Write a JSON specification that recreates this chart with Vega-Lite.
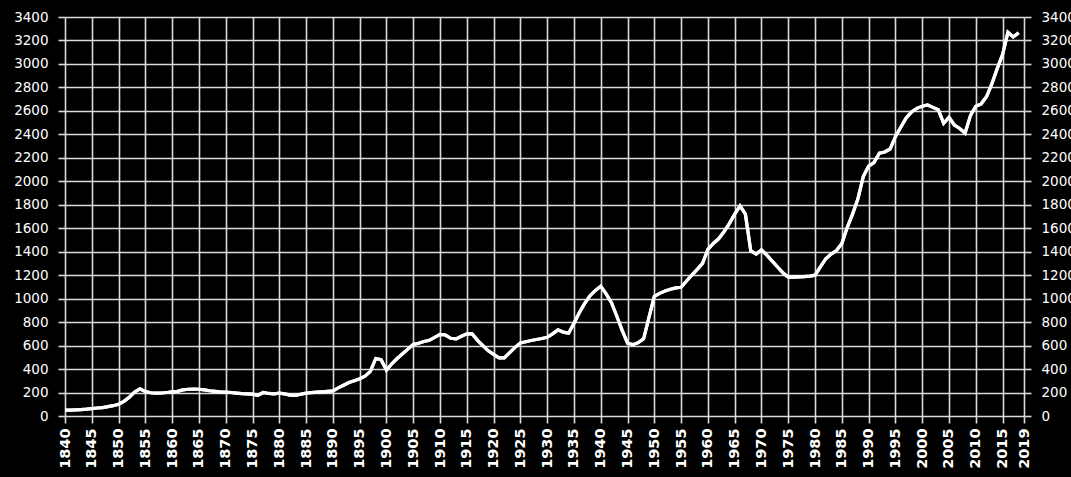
{
  "$schema": "https://vega.github.io/schema/vega-lite/v6.json",
  "width": 959,
  "height": 399,
  "autosize": {"type": "none"},
  "padding": {"left": 65, "top": 17, "right": 47, "bottom": 61},
  "background": "#000000",
  "config": {
    "view": {"stroke": null, "fill": "#000000"},
    "axis": {
      "domain": false,
      "gridColor": "#d9d9d9",
      "gridWidth": 1.6,
      "gridOpacity": 1,
      "tickColor": "#d9d9d9",
      "tickWidth": 1.6,
      "tickSize": 7,
      "labelColor": "#ffffff",
      "labelFont": "DejaVu Sans",
      "labelFontSize": 13.5,
      "title": null
    }
  },
  "data": {
    "values": [
      {"year": 1840, "v": 50}, {"year": 1841, "v": 50}, {"year": 1842, "v": 52}, {"year": 1843, "v": 55},
      {"year": 1844, "v": 58}, {"year": 1845, "v": 63}, {"year": 1846, "v": 68}, {"year": 1847, "v": 72},
      {"year": 1848, "v": 80}, {"year": 1849, "v": 88}, {"year": 1850, "v": 100}, {"year": 1851, "v": 125},
      {"year": 1852, "v": 160}, {"year": 1853, "v": 205}, {"year": 1854, "v": 232}, {"year": 1855, "v": 208},
      {"year": 1856, "v": 198}, {"year": 1857, "v": 195}, {"year": 1858, "v": 196}, {"year": 1859, "v": 200},
      {"year": 1860, "v": 205}, {"year": 1861, "v": 210}, {"year": 1862, "v": 222}, {"year": 1863, "v": 228},
      {"year": 1864, "v": 230}, {"year": 1865, "v": 228}, {"year": 1866, "v": 222}, {"year": 1867, "v": 215},
      {"year": 1868, "v": 210}, {"year": 1869, "v": 206}, {"year": 1870, "v": 204}, {"year": 1871, "v": 200},
      {"year": 1872, "v": 195}, {"year": 1873, "v": 190}, {"year": 1874, "v": 188}, {"year": 1875, "v": 186},
      {"year": 1876, "v": 176}, {"year": 1877, "v": 200}, {"year": 1878, "v": 192}, {"year": 1879, "v": 188},
      {"year": 1880, "v": 194}, {"year": 1881, "v": 188}, {"year": 1882, "v": 178}, {"year": 1883, "v": 175},
      {"year": 1884, "v": 185}, {"year": 1885, "v": 195}, {"year": 1886, "v": 200}, {"year": 1887, "v": 203},
      {"year": 1888, "v": 206}, {"year": 1889, "v": 210}, {"year": 1890, "v": 214}, {"year": 1891, "v": 240},
      {"year": 1892, "v": 262}, {"year": 1893, "v": 285}, {"year": 1894, "v": 300}, {"year": 1895, "v": 318},
      {"year": 1896, "v": 340}, {"year": 1897, "v": 380}, {"year": 1898, "v": 490}, {"year": 1899, "v": 480},
      {"year": 1900, "v": 391}, {"year": 1901, "v": 445}, {"year": 1902, "v": 490}, {"year": 1903, "v": 530},
      {"year": 1904, "v": 570}, {"year": 1905, "v": 609}, {"year": 1906, "v": 620}, {"year": 1907, "v": 635},
      {"year": 1908, "v": 645}, {"year": 1909, "v": 670}, {"year": 1910, "v": 696}, {"year": 1911, "v": 690},
      {"year": 1912, "v": 662}, {"year": 1913, "v": 657}, {"year": 1914, "v": 680}, {"year": 1915, "v": 700},
      {"year": 1916, "v": 700}, {"year": 1917, "v": 645}, {"year": 1918, "v": 600}, {"year": 1919, "v": 555},
      {"year": 1920, "v": 525}, {"year": 1921, "v": 495}, {"year": 1922, "v": 495}, {"year": 1923, "v": 540},
      {"year": 1924, "v": 585}, {"year": 1925, "v": 623}, {"year": 1926, "v": 633}, {"year": 1927, "v": 643},
      {"year": 1928, "v": 652}, {"year": 1929, "v": 660}, {"year": 1930, "v": 670}, {"year": 1931, "v": 700},
      {"year": 1932, "v": 734}, {"year": 1933, "v": 715}, {"year": 1934, "v": 706}, {"year": 1935, "v": 790},
      {"year": 1936, "v": 880}, {"year": 1937, "v": 960}, {"year": 1938, "v": 1025}, {"year": 1939, "v": 1070},
      {"year": 1940, "v": 1106}, {"year": 1941, "v": 1040}, {"year": 1942, "v": 965}, {"year": 1943, "v": 850},
      {"year": 1944, "v": 730}, {"year": 1945, "v": 620}, {"year": 1946, "v": 608}, {"year": 1947, "v": 625},
      {"year": 1948, "v": 657}, {"year": 1949, "v": 840}, {"year": 1950, "v": 1020}, {"year": 1951, "v": 1045},
      {"year": 1952, "v": 1065}, {"year": 1953, "v": 1080}, {"year": 1954, "v": 1092}, {"year": 1955, "v": 1097},
      {"year": 1956, "v": 1150}, {"year": 1957, "v": 1200}, {"year": 1958, "v": 1250}, {"year": 1959, "v": 1300},
      {"year": 1960, "v": 1420}, {"year": 1961, "v": 1470}, {"year": 1962, "v": 1510}, {"year": 1963, "v": 1570},
      {"year": 1964, "v": 1640}, {"year": 1965, "v": 1720}, {"year": 1966, "v": 1790}, {"year": 1967, "v": 1720},
      {"year": 1968, "v": 1406}, {"year": 1969, "v": 1380}, {"year": 1970, "v": 1415}, {"year": 1971, "v": 1370},
      {"year": 1972, "v": 1320}, {"year": 1973, "v": 1270}, {"year": 1974, "v": 1220}, {"year": 1975, "v": 1183},
      {"year": 1976, "v": 1183}, {"year": 1977, "v": 1185}, {"year": 1978, "v": 1188}, {"year": 1979, "v": 1192},
      {"year": 1980, "v": 1200}, {"year": 1981, "v": 1270}, {"year": 1982, "v": 1340}, {"year": 1983, "v": 1380},
      {"year": 1984, "v": 1410}, {"year": 1985, "v": 1470}, {"year": 1986, "v": 1606}, {"year": 1987, "v": 1720},
      {"year": 1988, "v": 1850}, {"year": 1989, "v": 2040}, {"year": 1990, "v": 2130}, {"year": 1991, "v": 2160},
      {"year": 1992, "v": 2240}, {"year": 1993, "v": 2250}, {"year": 1994, "v": 2275}, {"year": 1995, "v": 2380},
      {"year": 1996, "v": 2460}, {"year": 1997, "v": 2540}, {"year": 1998, "v": 2590}, {"year": 1999, "v": 2622},
      {"year": 2000, "v": 2640}, {"year": 2001, "v": 2650}, {"year": 2002, "v": 2630}, {"year": 2003, "v": 2610},
      {"year": 2004, "v": 2494}, {"year": 2005, "v": 2545}, {"year": 2006, "v": 2480}, {"year": 2007, "v": 2450},
      {"year": 2008, "v": 2410}, {"year": 2009, "v": 2560}, {"year": 2010, "v": 2640}, {"year": 2011, "v": 2660},
      {"year": 2012, "v": 2720}, {"year": 2013, "v": 2830}, {"year": 2014, "v": 2960}, {"year": 2015, "v": 3080},
      {"year": 2016, "v": 3270}, {"year": 2017, "v": 3230}, {"year": 2018, "v": 3265}
    ]
  },
  "layer": [
    {
      "mark": {"type": "line", "color": "#ffffff", "strokeWidth": 3.2},
      "encoding": {
        "x": {
          "field": "year",
          "type": "quantitative",
          "scale": {"domain": [1840, 2019], "nice": false, "zero": false},
          "axis": {
            "values": [1840, 1845, 1850, 1855, 1860, 1865, 1870, 1875, 1880, 1885, 1890, 1895, 1900, 1905, 1910, 1915, 1920, 1925, 1930, 1935, 1940, 1945, 1950, 1955, 1960, 1965, 1970, 1975, 1980, 1985, 1990, 1995, 2000, 2005, 2010, 2015, 2019],
            "tickCount": 100,
            "format": "d",
            "labelAngle": -90,
            "labelFontWeight": "bold",
            "labelFontSize": 14.5,
            "labelPadding": 5,
            "labelFlush": false,
            "labelOverlap": false
          }
        },
        "y": {
          "field": "v",
          "type": "quantitative",
          "scale": {"domain": [0, 3400], "nice": false},
          "axis": {
            "values": [0, 200, 400, 600, 800, 1000, 1200, 1400, 1600, 1800, 2000, 2200, 2400, 2600, 2800, 3000, 3200, 3400],
            "tickCount": 100,
            "format": "d",
            "labelPadding": 10,
            "labelFlush": false,
            "labelOverlap": false
          }
        }
      }
    },
    {
      "mark": {"type": "line", "color": "#ffffff", "strokeWidth": 3.2},
      "encoding": {
        "x": {"field": "year", "type": "quantitative"},
        "y": {
          "field": "v",
          "type": "quantitative",
          "axis": {
            "orient": "right",
            "grid": false,
            "values": [0, 200, 400, 600, 800, 1000, 1200, 1400, 1600, 1800, 2000, 2200, 2400, 2600, 2800, 3000, 3200, 3400],
            "tickCount": 100,
            "format": "d",
            "labelPadding": 10,
            "labelFlush": false,
            "labelOverlap": false
          }
        }
      }
    }
  ],
  "resolve": {"axis": {"y": "independent"}}
}
